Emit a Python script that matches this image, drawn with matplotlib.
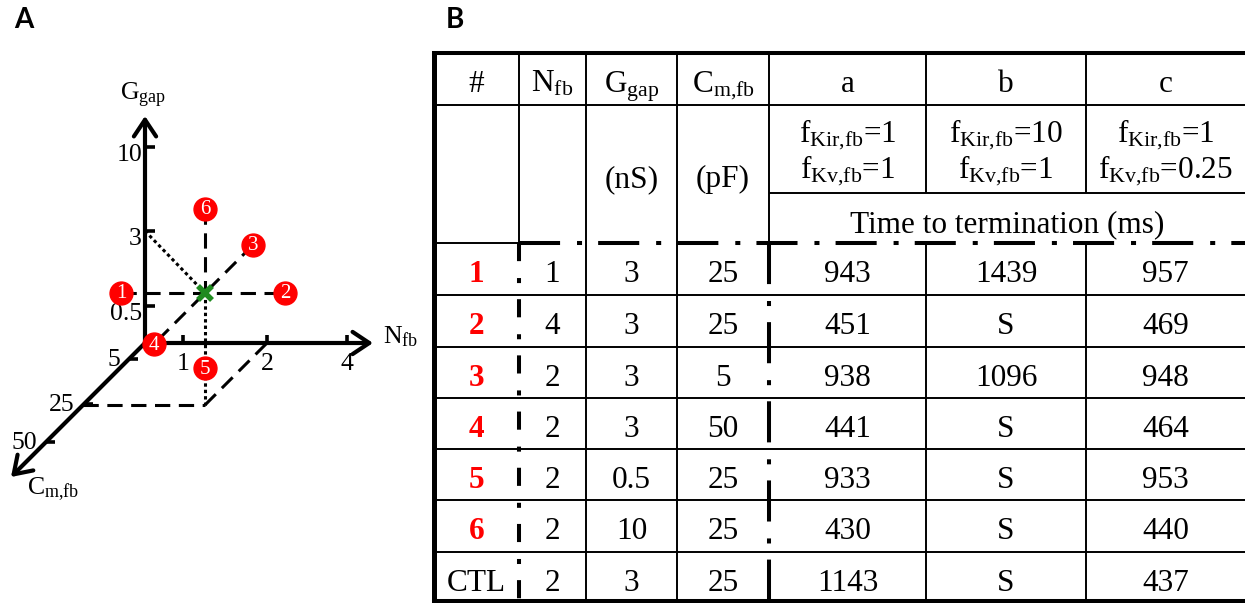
import matplotlib.pyplot as plt

plt.rcParams['mathtext.fontset'] = 'custom'
plt.rcParams['mathtext.rm'] = 'Liberation Serif'
plt.rcParams['mathtext.it'] = 'Liberation Serif:italic'
plt.rcParams['mathtext.bf'] = 'Liberation Serif:bold'
SERIF = 'Liberation Serif'

# ---- data: simulation cases (table rows, also the points of panel A) ----
case_ids = ['1', '2', '3', '4', '5', '6', 'CTL']
n_fb = [1, 4, 2, 2, 2, 2, 2]
g_gap = [3, 3, 3, 3, 0.5, 10, 3]
c_mfb = [25, 25, 5, 50, 25, 25, 25]
time_a = ['943', '451', '938', '441', '933', '430', '1143']
time_b = ['1439', 'S', '1096', 'S', 'S', 'S', 'S']
time_c = ['957', '469', '948', '464', '953', '440', '437']

# column headers
header_top = ['#', 'N$_{\\mathrm{fb}}$', 'G$_{\\mathrm{gap}}$', 'C$_{\\mathrm{m{,}fb}}$', 'a', 'b', 'c']
header_units = ['', '', '(nS)', '(pF)']
f_kir = ['1', '10', '1']
f_kv = ['1', '1', '0.25']

# axis ticks of the parameter space sketch
n_ticks = [1, 2, 4]
g_ticks = [0.5, 3, 10]
c_ticks = [5, 25, 50]

# ---- layout (pixels) ----
ORIGIN = (145, 343)
N_PX = {0: 0, 1: 38, 2: 122, 4: 202}
G_PX = {0: 0, 0.5: 37, 3: 112, 10: 196}
C_PT_PX = {0: 0, 5: 14, 25: 62, 50: 113}   # where the cases sit
C_TICK_PX = {5: 16, 25: 61, 50: 99}         # where the axis ticks sit
G_TIP = (145, 116)
N_TIP = (373, 343)
C_TIP = (11, 477)

COL_X = [434, 519, 586, 677, 769, 926, 1086, 1245]
ROW_Y = [243, 295, 347, 398, 449, 500, 552, 601]
TOP_Y = 53
HEAD_Y = 105
SUB_Y = 193

FS_A = 18.5
FS_B = 22.5


def proj(n, g, c, c_scale=C_PT_PX):
    """Map a (N_fb, G_gap, C_m,fb) triple to the oblique drawing of panel A."""
    x = ORIGIN[0] + N_PX[n] - c_scale[c]
    y = ORIGIN[1] - G_PX[g] + c_scale[c]
    return x, y


def seg(ax, p, q, **kw):
    ax.plot([p[0], q[0]], [p[1], q[1]], color='k', **kw)


def draw_panel_a(ax):
    lw_axis = 3.0
    # axes with arrow heads
    for tip in [G_TIP, N_TIP, C_TIP]:
        ax.annotate('', xy=tip, xytext=ORIGIN,
                    arrowprops=dict(arrowstyle='->,head_length=0.6,head_width=0.4',
                                    lw=lw_axis, color='k', shrinkA=0, shrinkB=0,
                                    mutation_scale=20))
    # ticks and tick labels
    for n in n_ticks:
        x = ORIGIN[0] + N_PX[n]
        seg(ax, (x, ORIGIN[1]), (x, ORIGIN[1] - 8), lw=2.6, solid_capstyle='butt')
        ax.text(x, 370, f'{n}', ha='center', va='baseline', fontsize=FS_A, family=SERIF)
    for g in g_ticks:
        y = ORIGIN[1] - G_PX[g]
        seg(ax, (ORIGIN[0], y), (ORIGIN[0] + 10, y), lw=2.6, solid_capstyle='butt')
        ax.text(142, y + 14, f'{g:g}', ha='right', va='baseline', fontsize=FS_A, family=SERIF)
    for c in c_ticks:
        x, y = ORIGIN[0] - C_TICK_PX[c], ORIGIN[1] + C_TICK_PX[c]
        seg(ax, (x, y), (x + 9, y), lw=2.6, solid_capstyle='butt')
        ax.text(x - 9, y + 7, f'{c}', ha='right', va='baseline', fontsize=FS_A, family=SERIF)

    ax.text(120, 100, 'G$_{\\mathrm{gap}}$', ha='left', va='baseline', fontsize=FS_A, family=SERIF)
    ax.text(383, 343, 'N$_{\\mathrm{fb}}$', ha='left', va='baseline', fontsize=FS_A, family=SERIF)
    ax.text(27, 494, 'C$_{\\mathrm{m{,}fb}}$', ha='left', va='baseline', fontsize=FS_A, family=SERIF)

    pts = [proj(n, g, c) for n, g, c in zip(n_fb, g_gap, c_mfb)]
    n0, g0, c0 = n_fb[-1], g_gap[-1], c_mfb[-1]
    ctl = pts[-1]
    dashed = dict(lw=2.2, ls=(0, (5.0, 2.8)))
    dotted = dict(lw=2.2, ls=(0, (1.1, 1.0)))
    seg(ax, pts[0], pts[1], **dashed)
    seg(ax, pts[5], ctl, **dashed)
    seg(ax, pts[2], pts[3], **dashed)
    seg(ax, ctl, proj(n0, 0, c0), **dotted)
    seg(ax, proj(0, g0, 0), ctl, **dotted)
    seg(ax, proj(0, 0, c0), proj(n0, 0, c0), **dashed)
    seg(ax, proj(n0, 0, c0), proj(n0, 0, 0), **dashed)

    ax.plot(ctl[0], ctl[1], 'x', color='#1f8a1f', ms=10, mew=4, zorder=5)
    for (x, y), label in zip(pts[:-1], case_ids[:-1]):
        ax.plot(x, y, 'o', color='#ff0000', ms=16.5, mec='#ff0000', zorder=6)
        ax.text(x, y + 1, label, color='white', ha='center', va='center',
                fontsize=15, family=SERIF, zorder=7)


def draw_panel_b(ax):
    thin = dict(lw=1.4, solid_capstyle='butt')
    thick = dict(lw=2.9, solid_capstyle='projecting')
    pat_long = (10.2, 4.2, 1.25, 4.0)
    pat_short = (4.5, 4.2, 1.25, 4.0)

    x0, x_end = COL_X[0], COL_X[-1]
    # outer border
    seg(ax, (x0, TOP_Y), (x_end, TOP_Y), **thick)
    seg(ax, (x0, ROW_Y[-1]), (x_end, ROW_Y[-1]), **thick)
    seg(ax, (x0, TOP_Y), (x0, ROW_Y[-1]), lw=3.6, solid_capstyle='projecting')
    # header grid
    seg(ax, (x0, HEAD_Y), (x_end, HEAD_Y), **thin)
    seg(ax, (COL_X[4], SUB_Y), (x_end, SUB_Y), **thin)
    for x in COL_X[1:5]:
        seg(ax, (x, TOP_Y), (x, ROW_Y[0]), **thin)
    for x in COL_X[5:7]:
        seg(ax, (x, TOP_Y), (x, SUB_Y), **thin)
    # separator between header and data
    seg(ax, (x0, ROW_Y[0]), (COL_X[1], ROW_Y[0]), **thin)
    seg(ax, (COL_X[1], ROW_Y[0]), (x_end, ROW_Y[0]), lw=2.9, ls=(0, pat_long))
    # data grid
    for y in ROW_Y[1:-1]:
        seg(ax, (x0, y), (x_end, y), **thin)
    for x in [COL_X[2], COL_X[3], COL_X[5], COL_X[6]]:
        seg(ax, (x, ROW_Y[0]), (x, ROW_Y[-1]), **thin)
    seg(ax, (COL_X[1], ROW_Y[0]), (COL_X[1], ROW_Y[-1]), lw=2.9, ls=(0, pat_short))
    seg(ax, (COL_X[4], ROW_Y[0]), (COL_X[4], ROW_Y[-1]), lw=2.9, ls=(0, pat_long))

    cx = [(COL_X[i] + COL_X[i + 1]) / 2 for i in range(len(COL_X) - 1)]
    txt = dict(ha='center', va='baseline', fontsize=FS_B, family=SERIF)
    for x, h in zip(cx, header_top):
        ax.text(x, 92, h, **txt)
    for x, u in zip(cx, header_units):
        ax.text(x, 187, u, **txt)
    for x, k1, k2 in zip(cx[4:], f_kir, f_kv):
        ax.text(x, 142, 'f$_{\\mathrm{Kir{,}fb}}$=' + k1, **txt)
        ax.text(x, 178, 'f$_{\\mathrm{Kv{,}fb}}$=' + k2, **txt)
    ax.text((COL_X[4] + x_end) / 2, 232, 'Time to termination (ms)', **txt)

    for i, cid in enumerate(case_ids):
        yb = ROW_Y[i] + 39
        if cid == 'CTL':
            ax.text(cx[0], yb, cid, **txt)
        else:
            ax.text(cx[0], yb, cid, color='#ff0000', fontweight='bold', **txt)
        vals = [n_fb[i], f'{g_gap[i]:g}', c_mfb[i], time_a[i], time_b[i], time_c[i]]
        for x, v in zip(cx[1:], vals):
            ax.text(x, yb, f'{v}', **txt)


fig = plt.figure(figsize=(12.45, 6.03), dpi=100)
ax = fig.add_axes([0, 0, 1, 1])
ax.set_xlim(0, 1245)
ax.set_ylim(603, 0)
ax.axis('off')

ax.text(14, 28, 'A', fontsize=20, fontweight='bold', family='Lato', va='baseline')
ax.text(446, 28, 'B', fontsize=20, fontweight='bold', family='Lato', va='baseline')
draw_panel_a(ax)
draw_panel_b(ax)

fig.savefig('out.png', dpi=100)
